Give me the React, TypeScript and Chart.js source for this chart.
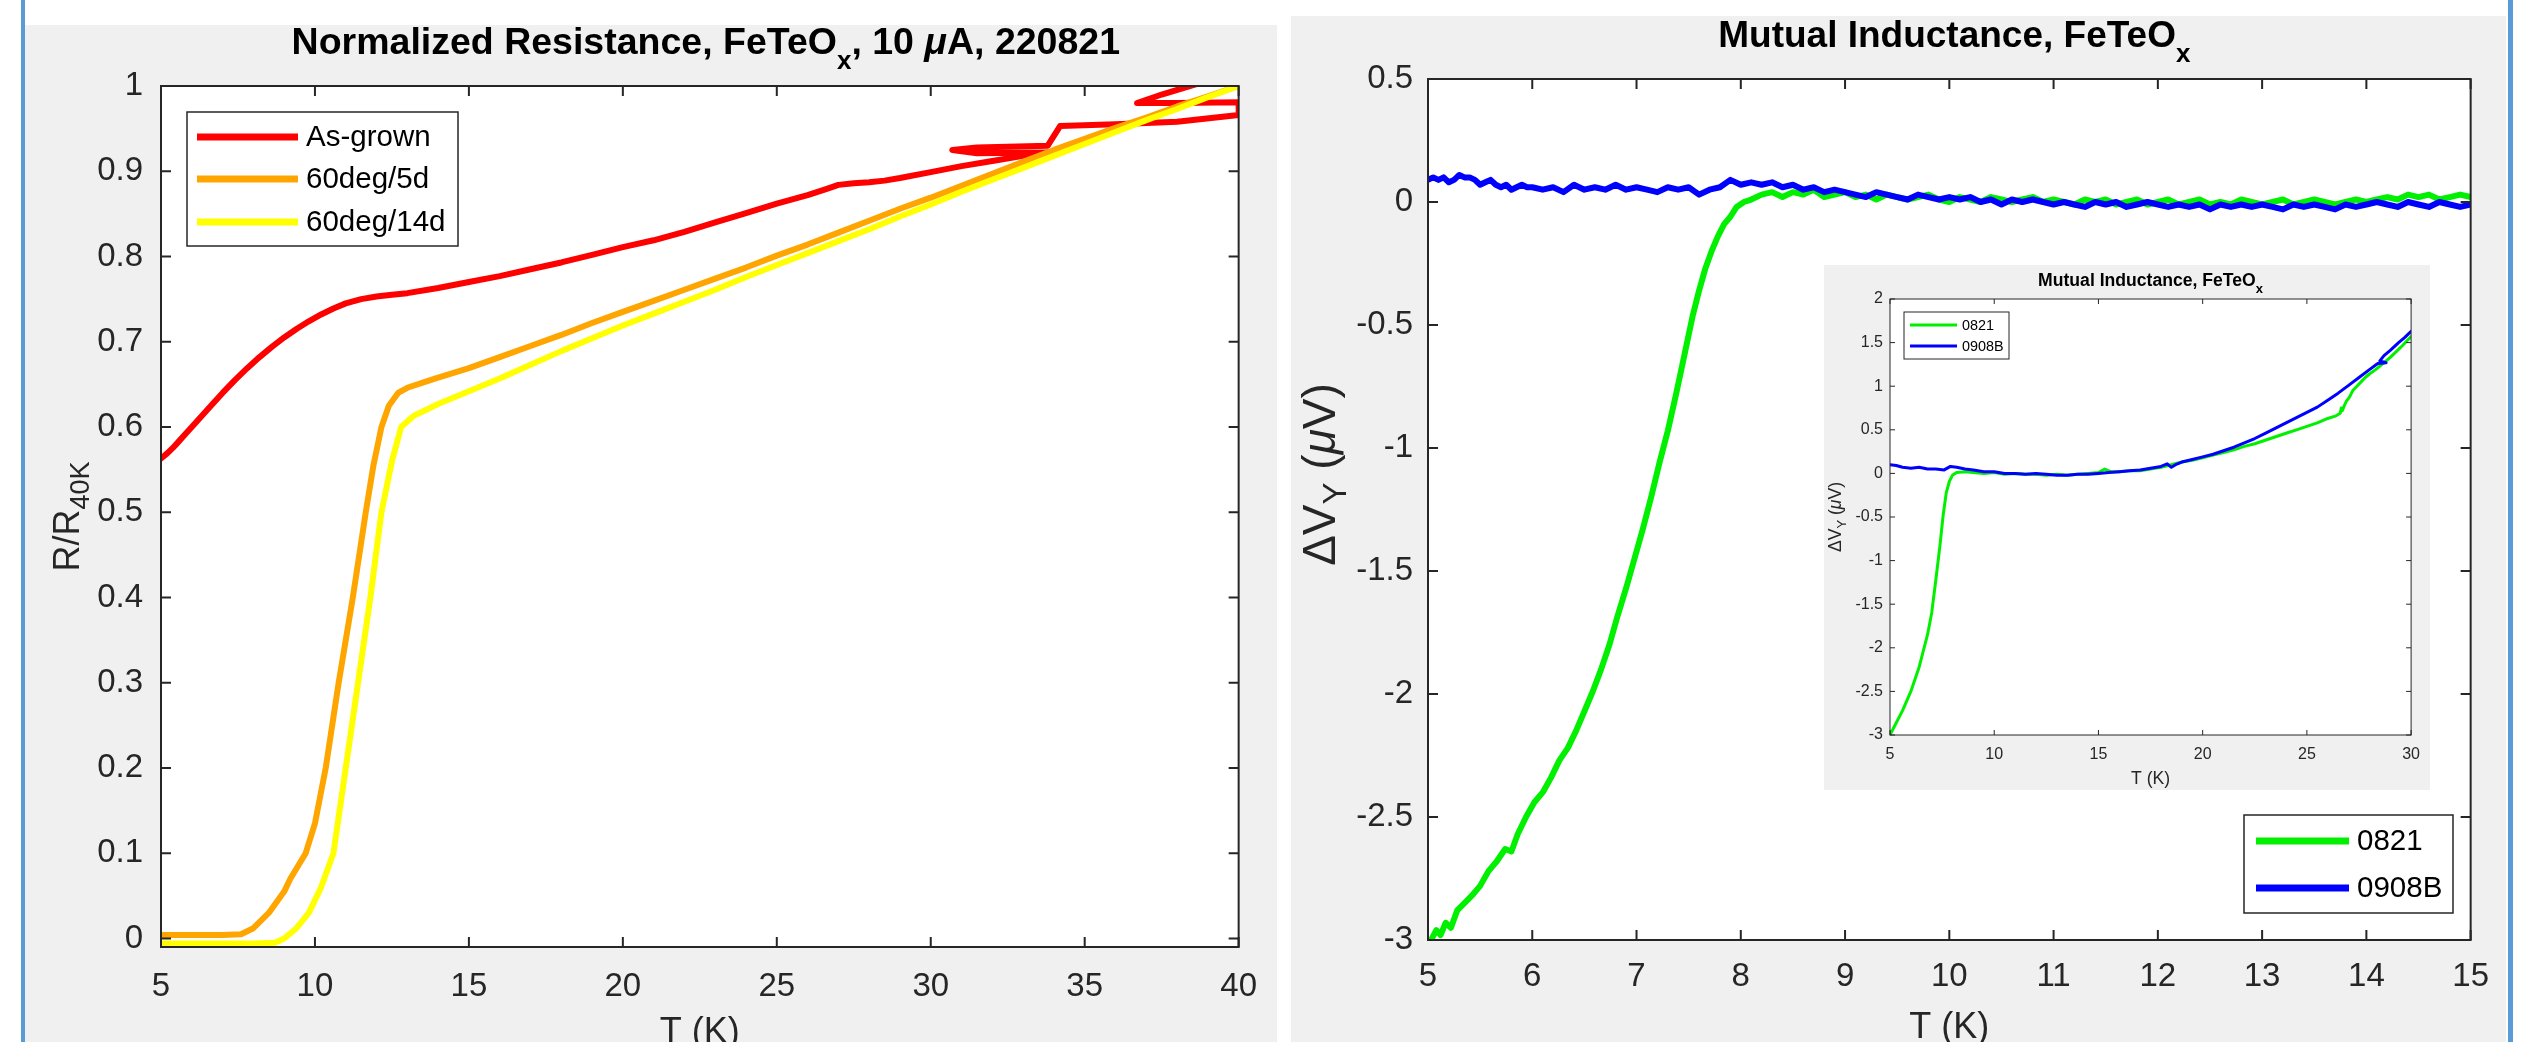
import React, { useEffect, useRef } from "react";
import { Chart, registerables } from "chart.js";

Chart.register(...registerables);

const FONT = '"Liberation Sans", Arial, Helvetica, sans-serif';
const AXIS = "#262626";
const PANEL = "#f0f0f0";

// ---------------- Left figure: normalized resistance ----------------
const leftXTicks = [5, 10, 15, 20, 25, 30, 35, 40];
const leftXLabels = ["5", "10", "15", "20", "25", "30", "35", "40"];
const leftYTicks = [0, 0.1, 0.2, 0.3, 0.4, 0.5, 0.6, 0.7, 0.8, 0.9, 1];
const leftYLabels = ["0", "0.1", "0.2", "0.3", "0.4", "0.5", "0.6", "0.7", "0.8", "0.9", "1"];

const asGrownT = [5.0, 5.2, 5.4, 5.6, 5.8, 6.0, 6.3, 6.6, 7.0, 7.4, 7.8, 8.2, 8.6, 9.0, 9.4, 9.8, 10.2, 10.6, 11.0, 11.5, 12.0, 12.5, 13.0, 14.0, 15.0, 16.0, 17.0, 18.0, 19.0, 20.0, 21.0, 22.0, 23.0, 24.0, 25.0, 26.0, 26.6, 27.0, 27.5, 28.0, 28.5, 29.0, 30.0, 31.0, 32.0, 33.0, 33.8, 31.5, 30.7, 31.5, 33.8, 34.2, 36.0, 38.0, 40.0, 40.0, 38.0, 36.7, 37.5, 38.6, 39.2];
const asGrownR = [0.563, 0.569, 0.576, 0.584, 0.592, 0.600, 0.612, 0.624, 0.640, 0.655, 0.669, 0.682, 0.694, 0.705, 0.715, 0.724, 0.732, 0.739, 0.745, 0.750, 0.753, 0.755, 0.757, 0.763, 0.770, 0.777, 0.785, 0.793, 0.802, 0.811, 0.819, 0.829, 0.840, 0.851, 0.862, 0.872, 0.879, 0.884, 0.886, 0.887, 0.889, 0.892, 0.899, 0.906, 0.912, 0.918, 0.922, 0.921, 0.925, 0.928, 0.930, 0.953, 0.955, 0.958, 0.966, 0.981, 0.980, 0.980, 0.990, 1.002, 1.004];

const d5T = [5.0, 6.0, 7.0, 7.6, 8.0, 8.5, 9.0, 9.2, 9.7, 10.0, 10.35, 10.77, 11.23, 11.65, 11.9, 12.16, 12.4, 12.7, 13.0, 13.5, 14.0, 15.0, 16.0, 17.0, 18.0, 19.0, 20.0, 21.0, 22.0, 23.0, 24.0, 25.0, 26.0, 27.0, 28.0, 29.0, 30.0, 31.0, 32.0, 33.0, 34.0, 35.0, 36.0, 37.0, 38.0, 39.0, 40.0];
const d5R = [0.004, 0.004, 0.004, 0.005, 0.012, 0.03, 0.055, 0.07, 0.1, 0.135, 0.2, 0.3, 0.4, 0.5, 0.555, 0.6, 0.625, 0.64, 0.646, 0.652, 0.658, 0.669, 0.682, 0.695, 0.708, 0.722, 0.735, 0.748, 0.761, 0.774, 0.787, 0.801, 0.814, 0.828, 0.842, 0.856, 0.869, 0.883, 0.897, 0.911, 0.925, 0.938, 0.951, 0.963, 0.976, 0.988, 1.0];

const d14T = [5.0, 6.0, 7.0, 8.0, 8.7, 9.0, 9.4, 9.8, 10.2, 10.6, 11.0, 11.4, 11.8, 12.16, 12.5, 12.8, 13.2, 13.6, 14.0, 15.0, 16.0, 17.0, 18.0, 19.0, 20.0, 21.0, 22.0, 23.0, 24.0, 25.0, 26.0, 27.0, 28.0, 29.0, 30.0, 31.0, 32.0, 33.0, 34.0, 35.0, 36.0, 37.0, 38.0, 39.0, 40.0];
const d14R = [-0.006, -0.006, -0.006, -0.006, -0.005, 0.0, 0.012, 0.03, 0.06, 0.1, 0.2, 0.3, 0.4, 0.5, 0.56, 0.6, 0.613, 0.62, 0.627, 0.642, 0.657, 0.673, 0.689, 0.704, 0.719, 0.733, 0.747, 0.761, 0.776, 0.79, 0.804, 0.818, 0.832, 0.847, 0.861, 0.876, 0.89, 0.904, 0.918, 0.932, 0.946, 0.96, 0.973, 0.987, 1.0];

// ---------------- Right figure: mutual inductance ----------------
const rightXTicks = [5, 6, 7, 8, 9, 10, 11, 12, 13, 14, 15];
const rightXLabels = ["5", "6", "7", "8", "9", "10", "11", "12", "13", "14", "15"];
const rightYTicks = [-3, -2.5, -2, -1.5, -1, -0.5, 0, 0.5];
const rightYLabels = ["-3", "-2.5", "-2", "-1.5", "-1", "-0.5", "0", "0.5"];

const g0821T = [5.03, 5.08, 5.12, 5.17, 5.22, 5.28, 5.35, 5.42, 5.5, 5.58, 5.66, 5.74, 5.8, 5.86, 5.94, 6.02, 6.1, 6.18, 6.26, 6.34, 6.42, 6.5, 6.58, 6.66, 6.74, 6.82, 6.9, 6.98, 7.06, 7.14, 7.22, 7.3, 7.38, 7.46, 7.54, 7.6, 7.66, 7.72, 7.78, 7.84, 7.9, 7.96, 8.03,
  8.1, 8.2, 8.3, 8.4, 8.5, 8.6, 8.7, 8.8, 8.9, 9.0,
  9.1, 9.2, 9.3, 9.4, 9.5, 9.6, 9.7, 9.8, 9.9, 10.0,
  10.1, 10.2, 10.3, 10.4, 10.5, 10.6, 10.7, 10.8, 10.9, 11.0,
  11.1, 11.2, 11.3, 11.4, 11.5, 11.6, 11.7, 11.8, 11.9, 12.0,
  12.1, 12.2, 12.3, 12.4, 12.5, 12.6, 12.7, 12.8, 12.9, 13.0,
  13.1, 13.2, 13.3, 13.4, 13.5, 13.6, 13.7, 13.8, 13.9, 14.0,
  14.1, 14.2, 14.3, 14.4, 14.5, 14.6, 14.7, 14.8, 14.9, 15.0];
const g0821V = [-3.0, -2.96, -2.98, -2.93, -2.95, -2.88, -2.85, -2.82, -2.78, -2.72, -2.68, -2.63, -2.64, -2.57, -2.5, -2.44, -2.4, -2.34, -2.27, -2.22, -2.15, -2.07, -1.99, -1.9, -1.8, -1.68, -1.57, -1.45, -1.33, -1.2, -1.06, -0.93, -0.78, -0.62, -0.46, -0.36, -0.27, -0.2, -0.14, -0.09, -0.06, -0.02, 0.0,
  0.01, 0.03, 0.04, 0.02, 0.04, 0.03, 0.05, 0.02, 0.03, 0.04,
  0.02, 0.03, 0.01, 0.03, 0.02, 0.01, 0.02, 0.03, 0.01, 0.0,
  0.02, 0.01, 0.0, 0.02, 0.01, 0.0, 0.01, 0.02, 0.0, 0.01,
  0.0, -0.01, 0.01, 0.0, 0.01, -0.01, 0.0, 0.01, -0.01, 0.0,
  0.01, -0.01, 0.0, 0.01, -0.01, 0.0, -0.01, 0.01, 0.0, -0.01,
  0.0, 0.01, -0.01, 0.0, 0.01, 0.0, -0.01, 0.0, 0.01, 0.0,
  0.01, 0.02, 0.01, 0.03, 0.02, 0.03, 0.01, 0.02, 0.03, 0.02];

const b0908T = [5.0, 5.05, 5.1, 5.15, 5.2, 5.25, 5.3, 5.35, 5.4, 5.45, 5.5, 5.55, 5.6, 5.65, 5.7, 5.75, 5.8, 5.85, 5.9, 5.95, 6.0,
  6.1, 6.2, 6.3, 6.4, 6.5, 6.6, 6.7, 6.8, 6.9, 7.0,
  7.1, 7.2, 7.3, 7.4, 7.5, 7.6, 7.7, 7.8, 7.9, 8.0,
  8.1, 8.2, 8.3, 8.4, 8.5, 8.6, 8.7, 8.8, 8.9, 9.0,
  9.1, 9.2, 9.3, 9.4, 9.5, 9.6, 9.7, 9.8, 9.9, 10.0,
  10.1, 10.2, 10.3, 10.4, 10.5, 10.6, 10.7, 10.8, 10.9, 11.0,
  11.1, 11.2, 11.3, 11.4, 11.5, 11.6, 11.7, 11.8, 11.9, 12.0,
  12.1, 12.2, 12.3, 12.4, 12.5, 12.6, 12.7, 12.8, 12.9, 13.0,
  13.1, 13.2, 13.3, 13.4, 13.5, 13.6, 13.7, 13.8, 13.9, 14.0,
  14.1, 14.2, 14.3, 14.4, 14.5, 14.6, 14.7, 14.8, 14.9, 15.0];
const b0908V = [0.09, 0.1, 0.09, 0.1, 0.08, 0.09, 0.11, 0.1, 0.1, 0.09, 0.07, 0.08, 0.09, 0.07, 0.06, 0.07, 0.05, 0.06, 0.07, 0.06, 0.06,
  0.05, 0.06, 0.04, 0.07, 0.05, 0.06, 0.05, 0.07, 0.05, 0.06,
  0.05, 0.04, 0.06, 0.05, 0.06, 0.03, 0.05, 0.06, 0.09, 0.07,
  0.08, 0.07, 0.08, 0.06, 0.07, 0.05, 0.06, 0.04, 0.05, 0.04,
  0.03, 0.02, 0.04, 0.03, 0.02, 0.01, 0.03, 0.02, 0.01, 0.02,
  0.01, 0.02, 0.0, 0.01, -0.01, 0.01, 0.0, 0.01, 0.0, -0.01,
  0.0, -0.01, -0.02, 0.0, -0.01, 0.0, -0.02, -0.01, 0.0, -0.01,
  -0.02, -0.01, -0.02, -0.01, -0.03, -0.01, -0.02, -0.01, -0.02, -0.01,
  -0.02, -0.03, -0.01, -0.02, -0.01, -0.02, -0.03, -0.01, -0.02, -0.01,
  0.0, -0.01, -0.02, 0.0, -0.01, -0.02, 0.0, -0.01, -0.02, -0.01];

// ---------------- Inset: mutual inductance, 5-30 K ----------------
const insetXTicks = [5, 10, 15, 20, 25, 30];
const insetXLabels = ["5", "10", "15", "20", "25", "30"];
const insetYTicks = [-3, -2.5, -2, -1.5, -1, -0.5, 0, 0.5, 1, 1.5, 2];
const insetYLabels = ["-3", "-2.5", "-2", "-1.5", "-1", "-0.5", "0", "0.5", "1", "1.5", "2"];

const i0821T = [5.0, 5.3, 5.6, 6.0, 6.4, 6.8, 7.0, 7.2, 7.4, 7.55, 7.7, 7.85, 8.0, 8.2, 8.6, 9.0, 9.5, 10, 10.5, 11, 11.5, 12, 12.5, 13, 13.5, 14, 14.5, 15, 15.3, 15.6, 16, 16.5, 17, 17.5, 18, 18.5, 19, 19.5, 20, 20.5, 21, 21.5, 22, 22.5, 23, 23.5, 24, 24.5, 25, 25.5, 26, 26.4, 26.6, 26.65, 26.7, 26.8, 26.9, 27.0, 27.1, 27.2, 27.4, 27.6, 27.8, 28.0, 28.3, 28.6, 29.0, 29.3, 29.6, 30.0];
const i0821V = [-3.0, -2.86, -2.72, -2.5, -2.22, -1.85, -1.6, -1.22, -0.82, -0.48, -0.22, -0.09, -0.02, 0.01, 0.02, 0.01, 0.0, 0.01, -0.01, 0.0, -0.01, -0.01, -0.02, -0.01, -0.02, -0.01, 0.0, 0.01, 0.05, 0.02, 0.02, 0.03, 0.03, 0.05, 0.07, 0.1, 0.13, 0.15, 0.18, 0.21, 0.24, 0.27, 0.31, 0.34, 0.38, 0.42, 0.46, 0.5, 0.54, 0.58, 0.63, 0.66, 0.69, 0.75, 0.72, 0.78, 0.83, 0.86, 0.9, 0.95, 1.0, 1.05, 1.1, 1.14, 1.19, 1.25, 1.33, 1.4, 1.47, 1.57];

const i0908T = [5.0, 5.3, 5.6, 6.0, 6.4, 6.8, 7.2, 7.6, 7.9, 8.2, 8.6, 9.0, 9.5, 10, 10.5, 11, 11.5, 12, 12.5, 13, 13.5, 14, 14.5, 15, 15.5, 16, 16.5, 17, 17.5, 18, 18.3, 18.5, 18.7, 19, 19.5, 20, 20.5, 21, 21.5, 22, 22.5, 23, 23.5, 24, 24.5, 25, 25.5, 26, 26.5, 27, 27.5, 28, 28.4, 28.8, 28.5, 28.7, 29.0, 29.4, 29.7, 30.0];
const i0908V = [0.1, 0.09, 0.07, 0.06, 0.07, 0.05, 0.05, 0.04, 0.08, 0.07, 0.05, 0.04, 0.02, 0.02, 0.0, 0.0, -0.01, 0.0, -0.01, -0.02, -0.02, -0.01, -0.01, 0.0, 0.01, 0.02, 0.03, 0.04, 0.06, 0.08, 0.11, 0.07, 0.1, 0.13, 0.16, 0.19, 0.22, 0.26, 0.3, 0.35, 0.4, 0.46, 0.52, 0.58, 0.64, 0.7, 0.76, 0.84, 0.92, 1.01, 1.1, 1.19, 1.26, 1.27, 1.29, 1.35, 1.41, 1.5, 1.56, 1.63];

// ---------------- rendering ----------------
type Seg = { t: string; sub?: boolean; it?: boolean };
type Series = { label: string; color: string; xs: number[]; ys: number[]; width: number; order: number };
type LegendCfg = { x: number; y: number; w: number; h: number; rows: number[]; s0: number; s1: number; tx: number; size: number; lw: number; boxW: number };
type PanelCfg = {
  left: number; top: number; width: number; height: number;
  padTop: number; padRight: number; yW: number; xH: number;
  xMin: number; xMax: number; yMin: number; yMax: number;
  xTicks: number[]; xLabels: string[]; yTicks: number[]; yLabels: string[];
  tickSize: number; xPad: number; yPad: number;
  tickLen: number; frameW: number; tickW: number;
  title: Seg[]; titleSize: number; titleSub: number; titleDrop: number; titleBase: number; titleShift: number;
  xLabel: Seg[]; yLabel: Seg[]; labelSize: number; labelSub: number; labelDrop: number;
  yLabelSize: number; yLabelSub: number;
  xLabelBase: number; yLabelBase: number; yLabelShift: number;
  legend: LegendCfg; series: Series[];
};

function drawSegs(ctx: CanvasRenderingContext2D, segs: Seg[], size: number, subSize: number, drop: number, bold: boolean, cx: number, by: number) {
  const items = segs.map((s) => {
    const font = `${s.it ? "italic " : ""}${bold ? "bold " : ""}${s.sub ? subSize : size}px ${FONT}`;
    ctx.font = font;
    return { s, font, w: ctx.measureText(s.t).width };
  });
  const total = items.reduce((a, b) => a + b.w, 0);
  let x = cx - total / 2;
  ctx.textAlign = "left";
  ctx.textBaseline = "alphabetic";
  for (const it of items) {
    ctx.font = it.font;
    ctx.fillText(it.s.t, x, by + (it.s.sub ? drop : 0));
    x += it.w;
  }
}

function makeDecor(cfg: PanelCfg) {
  return {
    id: "matlabDecor",
    beforeDraw(chart: any) {
      const { ctx, chartArea: a } = chart;
      ctx.save();
      ctx.fillStyle = PANEL;
      ctx.fillRect(0, 0, chart.width, chart.height);
      ctx.fillStyle = "#ffffff";
      ctx.fillRect(a.left, a.top, a.right - a.left, a.bottom - a.top);
      ctx.restore();
    },
    afterDraw(chart: any) {
      const { ctx, chartArea: a, scales } = chart;
      const xs = scales.x;
      const ys = scales.y;
      ctx.save();
      // inward ticks on all four sides
      ctx.strokeStyle = AXIS;
      ctx.lineWidth = cfg.tickW;
      ctx.beginPath();
      const L = cfg.tickLen;
      for (const v of cfg.xTicks) {
        const p = xs.getPixelForValue(v);
        ctx.moveTo(p, a.bottom); ctx.lineTo(p, a.bottom - L);
        ctx.moveTo(p, a.top); ctx.lineTo(p, a.top + L);
      }
      for (const v of cfg.yTicks) {
        const p = ys.getPixelForValue(v);
        ctx.moveTo(a.left, p); ctx.lineTo(a.left + L, p);
        ctx.moveTo(a.right, p); ctx.lineTo(a.right - L, p);
      }
      ctx.stroke();
      ctx.lineWidth = cfg.frameW;
      ctx.strokeRect(a.left, a.top, a.right - a.left, a.bottom - a.top);

      // legend
      const lg = cfg.legend;
      const bx = a.left + lg.x;
      const by = a.top + lg.y;
      ctx.fillStyle = "#ffffff";
      ctx.fillRect(bx, by, lg.w, lg.h);
      ctx.strokeStyle = AXIS;
      ctx.lineWidth = lg.boxW;
      ctx.strokeRect(bx, by, lg.w, lg.h);
      cfg.series.forEach((s, i) => {
        const ry = by + lg.rows[i];
        ctx.strokeStyle = s.color;
        ctx.lineWidth = lg.lw;
        ctx.lineCap = "butt";
        ctx.beginPath();
        ctx.moveTo(bx + lg.s0, ry);
        ctx.lineTo(bx + lg.s1, ry);
        ctx.stroke();
        ctx.fillStyle = "#000000";
        ctx.font = `${lg.size}px ${FONT}`;
        ctx.textAlign = "left";
        ctx.textBaseline = "middle";
        ctx.fillText(s.label, bx + lg.tx, ry + 1);
      });

      // title
      ctx.fillStyle = "#000000";
      drawSegs(ctx, cfg.title, cfg.titleSize, cfg.titleSub, cfg.titleDrop, true, (a.left + a.right) / 2 + cfg.titleShift, a.top - cfg.titleBase);
      // axis labels
      ctx.fillStyle = AXIS;
      drawSegs(ctx, cfg.xLabel, cfg.labelSize, cfg.labelSub, cfg.labelDrop, false, (a.left + a.right) / 2, a.bottom + cfg.xLabelBase);
      ctx.save();
      ctx.translate(a.left - cfg.yLabelBase, (a.top + a.bottom) / 2 + cfg.yLabelShift);
      ctx.rotate(-Math.PI / 2);
      drawSegs(ctx, cfg.yLabel, cfg.yLabelSize, cfg.yLabelSub, cfg.labelDrop, false, 0, 0);
      ctx.restore();
      ctx.restore();
    },
  };
}

function Panel({ cfg }: { cfg: PanelCfg }) {
  const ref = useRef<HTMLCanvasElement | null>(null);
  useEffect(() => {
    const canvas = ref.current;
    if (!canvas) return;
    const chart = new Chart(canvas, {
      type: "line",
      data: {
        datasets: cfg.series.map((s) => ({
          label: s.label,
          data: s.xs.map((x, i) => ({ x, y: s.ys[i] })),
          borderColor: s.color,
          backgroundColor: s.color,
          borderWidth: s.width,
          pointRadius: 0,
          pointHoverRadius: 0,
          tension: 0,
          fill: false,
          borderJoinStyle: "round" as const,
          borderCapStyle: "round" as const,
          order: s.order,
        })),
      },
      options: {
        responsive: false,
        maintainAspectRatio: false,
        animation: false,
        devicePixelRatio: 1,
        events: [],
        layout: { padding: { top: cfg.padTop, right: cfg.padRight, left: 0, bottom: 0 } },
        plugins: { legend: { display: false }, title: { display: false }, tooltip: { enabled: false } },
        scales: {
          x: {
            type: "linear",
            min: cfg.xMin,
            max: cfg.xMax,
            grid: { display: false, drawTicks: false },
            border: { display: false },
            afterBuildTicks: (sc: any) => { sc.ticks = cfg.xTicks.map((v) => ({ value: v })); },
            afterFit: (sc: any) => { sc.height = cfg.xH; },
            ticks: {
              autoSkip: false, maxRotation: 0, minRotation: 0, padding: cfg.xPad, color: AXIS,
              font: { family: FONT, size: cfg.tickSize },
              callback: (_v: any, i: number) => cfg.xLabels[i],
            },
          },
          y: {
            type: "linear",
            min: cfg.yMin,
            max: cfg.yMax,
            grid: { display: false, drawTicks: false },
            border: { display: false },
            afterBuildTicks: (sc: any) => { sc.ticks = cfg.yTicks.map((v) => ({ value: v })); },
            afterFit: (sc: any) => { sc.width = cfg.yW; },
            ticks: {
              autoSkip: false, padding: cfg.yPad, color: AXIS,
              font: { family: FONT, size: cfg.tickSize },
              callback: (_v: any, i: number) => cfg.yLabels[i],
            },
          },
        },
      } as any,
      plugins: [makeDecor(cfg)],
    });
    return () => chart.destroy();
  }, [cfg]);
  return (
    <canvas
      ref={ref}
      width={cfg.width}
      height={cfg.height}
      style={{ position: "absolute", left: cfg.left, top: cfg.top, width: cfg.width, height: cfg.height }}
    />
  );
}

const leftCfg: PanelCfg = {
  left: 25, top: 25, width: 1252, height: 1017,
  padTop: 61, padRight: 23, yW: 136, xH: 95,
  xMin: 5, xMax: 40, yMin: -0.01, yMax: 1,
  xTicks: leftXTicks, xLabels: leftXLabels, yTicks: leftYTicks, yLabels: leftYLabels,
  tickSize: 33, xPad: 20, yPad: 18,
  tickLen: 10, frameW: 2, tickW: 2,
  title: [{ t: "Normalized Resistance, FeTeO" }, { t: "x", sub: true }, { t: ", 10 " }, { t: "μ", it: true }, { t: "A, 220821" }],
  titleSize: 37.5, titleSub: 26, titleDrop: 15, titleBase: 32, titleShift: 6,
  xLabel: [{ t: "T (K)" }],
  yLabel: [{ t: "R/R" }, { t: "40K", sub: true }],
  labelSize: 36, labelSub: 27, labelDrop: 10,
  yLabelSize: 36, yLabelSub: 27,
  xLabelBase: 96, yLabelBase: 82, yLabelShift: 0,
  legend: { x: 26, y: 26, w: 271, h: 134, rows: [25, 67, 110], s0: 10, s1: 111, tx: 119, size: 29.5, lw: 7, boxW: 1.5 },
  series: [
    { label: "As-grown", color: "#ff0000", xs: asGrownT, ys: asGrownR, width: 6, order: 2 },
    { label: "60deg/5d", color: "#ffa500", xs: d5T, ys: d5R, width: 6, order: 1 },
    { label: "60deg/14d", color: "#ffff00", xs: d14T, ys: d14R, width: 6, order: 0 },
  ],
};

const rightCfg: PanelCfg = {
  left: 1291, top: 16, width: 1215, height: 1026,
  padTop: 63, padRight: 28, yW: 137, xH: 102,
  xMin: 5, xMax: 15, yMin: -3, yMax: 0.5,
  xTicks: rightXTicks, xLabels: rightXLabels, yTicks: rightYTicks, yLabels: rightYLabels,
  tickSize: 33, xPad: 17, yPad: 15,
  tickLen: 10, frameW: 2, tickW: 2,
  title: [{ t: "Mutual Inductance, FeTeO" }, { t: "x", sub: true }],
  titleSize: 37, titleSub: 26, titleDrop: 15, titleBase: 32, titleShift: 5,
  xLabel: [{ t: "T (K)" }],
  yLabel: [{ t: "ΔV" }, { t: "Y", sub: true }, { t: " (" }, { t: "μ", it: true }, { t: "V)" }],
  labelSize: 36, labelSub: 27, labelDrop: 11,
  yLabelSize: 46, yLabelSub: 33,
  xLabelBase: 98, yLabelBase: 93, yLabelShift: -35,
  legend: { x: 816, y: 736, w: 209, h: 98, rows: [26, 73], s0: 12, s1: 105, tx: 113, size: 29.5, lw: 7, boxW: 1.5 },
  series: [
    { label: "0821", color: "#00f000", xs: g0821T, ys: g0821V, width: 6, order: 1 },
    { label: "0908B", color: "#0000ff", xs: b0908T, ys: b0908V, width: 6, order: 0 },
  ],
};

const insetCfg: PanelCfg = {
  left: 1824, top: 265, width: 606, height: 525,
  padTop: 34, padRight: 12, yW: 66, xH: 55,
  xMin: 5, xMax: 30, yMin: -3, yMax: 2,
  xTicks: insetXTicks, xLabels: insetXLabels, yTicks: insetYTicks, yLabels: insetYLabels,
  tickSize: 16, xPad: 10, yPad: 7,
  tickLen: 5, frameW: 1, tickW: 1,
  title: [{ t: "Mutual Inductance, FeTeO" }, { t: "x", sub: true }],
  titleSize: 17.6, titleSub: 13, titleDrop: 7, titleBase: 13, titleShift: 0,
  xLabel: [{ t: "T (K)" }],
  yLabel: [{ t: "ΔV" }, { t: "Y", sub: true }, { t: " (" }, { t: "μ", it: true }, { t: "V)" }],
  labelSize: 17.6, labelSub: 13, labelDrop: 5,
  yLabelSize: 17.6, yLabelSub: 13,
  xLabelBase: 49, yLabelBase: 49, yLabelShift: 0,
  legend: { x: 14, y: 13, w: 105, h: 47, rows: [13, 34], s0: 6, s1: 53, tx: 58, size: 14.4, lw: 3, boxW: 1 },
  series: [
    { label: "0821", color: "#00f000", xs: i0821T, ys: i0821V, width: 3, order: 1 },
    { label: "0908B", color: "#0000ff", xs: i0908T, ys: i0908V, width: 3, order: 0 },
  ],
};

export default function App() {
  return (
    <div style={{ position: "absolute", left: 0, top: 0, width: 2532, height: 1042, background: "#ffffff", overflow: "hidden" }}>
      <div style={{ position: "absolute", left: 21, top: 0, width: 4, height: 1042, background: "#5b9bd5" }} />
      <div style={{ position: "absolute", left: 2508, top: 0, width: 5, height: 1042, background: "#5b9bd5" }} />
      <Panel cfg={leftCfg} />
      <Panel cfg={rightCfg} />
      <Panel cfg={insetCfg} />
    </div>
  );
}
